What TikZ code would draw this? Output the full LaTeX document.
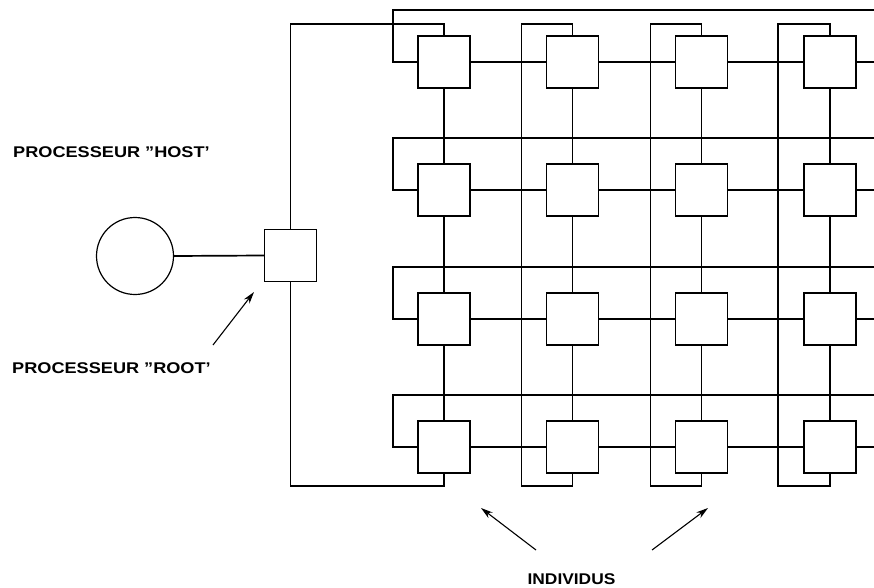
\documentclass[tikz,border=0pt]{standalone}
\usepackage{fontspec}
\setmainfont[Ligatures=NoCommon]{Liberation Sans}
\usetikzlibrary{arrows.meta}
\begin{document}
\begin{tikzpicture}[x=1pt,y=-1pt,
  wire/.style={line width=1.7pt,line cap=rect},
  proc/.style={draw,line width=1.7pt,fill=white,minimum size=52pt,inner sep=0pt},
  lbl/.style={font=\bfseries\fontsize{15.5}{15.5}\selectfont,inner sep=0pt,anchor=west},
  pointer/.style={line width=1.1pt,-{Stealth[length=12pt,width=7pt]}}]
\useasboundingbox (0,0) rectangle (874,588);
% helper coordinates
\coordinate (topk) at (0,24);
\coordinate (botk) at (0,486);
\coordinate (lx) at (393,0);
\coordinate (edge) at (874,0);
\foreach \r/\wy in {1/10,2/138,3/267,4/395}{\coordinate (w\r) at (0,\wy);}
\foreach \c/\xx in {2/521.5,3/650.5,4/778}{\coordinate (v\c) at (\xx,0);}
% processor grid
\foreach \r/\yy in {1/62,2/190,3/319,4/447}{
  \foreach \c/\xx in {1/444,2/572.5,3/701.5,4/830}{
    \node[proc] (s-\r-\c) at (\xx,\yy) {};
  }
}
% root and host
\node[proc] (root) at (290.5,255.5) {};
\node[draw,circle,line width=1.2pt,minimum size=77pt,inner sep=0pt] (host) at (135,256) {};
\draw[wire] (host.east) -- (root.west);
% row connections
\foreach \r in {1,2,3,4}{
  \draw[wire] (s-\r-1.east) -- (s-\r-2.west);
  \draw[wire] (s-\r-2.east) -- (s-\r-3.west);
  \draw[wire] (s-\r-3.east) -- (s-\r-4.west);
  \draw[wire] (s-\r-4.east) -- (edge |- s-\r-4.east);
  \draw[wire] (s-\r-1.west) -| (lx |- w\r) -- (edge |- w\r);
}
% column connections
\foreach \c in {1,2,3,4}{
  \draw[wire] (s-1-\c.south) -- (s-2-\c.north);
  \draw[wire] (s-2-\c.south) -- (s-3-\c.north);
  \draw[wire] (s-3-\c.south) -- (s-4-\c.north);
}
\draw[wire] (s-1-1.north) |- (root |- topk) -- (root.north);
\draw[wire] (root.south) -- (root |- botk) -| (s-4-1.south);
\foreach \c in {2,3,4}{
  \draw[wire] (s-1-\c.north) |- (v\c |- topk) -- (v\c |- botk) -| (s-4-\c.south);
}
% labels
\node[lbl,xscale=1.17] (hostlbl) at (13,152.5) {PROCESSEUR \symbol{34}HOST\symbol{39}};
\node[lbl,xscale=1.17] (rootlbl) at (12,368.5) {PROCESSEUR \symbol{34}ROOT\symbol{39}};
\node[lbl,anchor=center,xscale=1.12] (indlbl) at (571.5,579) {INDIVIDUS};
% pointers
\coordinate (ra) at (213,345);
\coordinate (rb) at (254,292);
\draw[pointer] (ra) -- (rb);
\coordinate (ia) at (536,550);
\coordinate (ib) at (481,508);
\draw[pointer] (ia) -- (ib);
\coordinate (ja) at (652,550);
\coordinate (jb) at (708,508);
\draw[pointer] (ja) -- (jb);
\end{tikzpicture}
\end{document}
